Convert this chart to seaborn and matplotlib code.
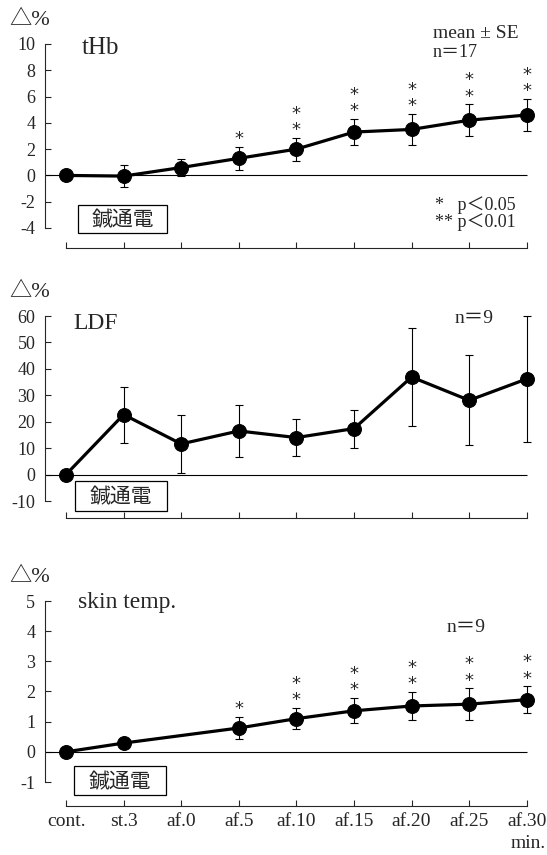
import numpy as np
import pandas as pd
import matplotlib
matplotlib.use('Agg')
import matplotlib.pyplot as plt
import seaborn as sns
from matplotlib.patches import Rectangle

# dados (média ± SE)
labels = ['cont.', 'st.3', 'af.0', 'af.5', 'af.10', 'af.15', 'af.20', 'af.25', 'af.30']

thb_mean = [0, -0.05, 0.6, 1.3, 2.0, 3.3, 3.5, 4.2, 4.6]
thb_se = [0, 0.85, 0.65, 0.87, 0.87, 1.0, 1.2, 1.2, 1.2]
thb_sig = [0, 0, 0, 1, 2, 2, 2, 2, 2]

ldf_mean = [0, 22.7, 11.6, 16.5, 14.0, 17.4, 36.9, 28.1, 36.2]
ldf_se = [0, 10.6, 11.0, 9.9, 7.0, 7.2, 18.7, 17.0, 23.7]
ldf_sig = [0, 0, 0, 0, 0, 0, 0, 0, 0]

skin_mean = [0, 0.29, np.nan, 0.79, 1.1, 1.36, 1.52, 1.58, 1.73]
skin_se = [0, 0.05, np.nan, 0.37, 0.35, 0.42, 0.46, 0.52, 0.44]
skin_sig = [0, 0, 0, 1, 2, 2, 2, 2, 2]

# estilo
sns.set_style('ticks')
plt.rcParams['font.family'] = ['Liberation Serif', 'Noto Sans CJK JP', 'DejaVu Sans']
plt.rcParams['axes.linewidth'] = 0.8
plt.rcParams['axes.unicode_minus'] = False

W, H = 547, 855
fig = plt.figure(figsize=(W / 100, H / 100), dpi=100)

L, R = 45, 540
step = 57.6
x0 = 66


def ftxt(x, y, s, **kw):
    # texto posicionado em pixels da figura
    fig.text(x / W, 1 - y / H, s, **kw)


def box(x1, y1, x2, y2):
    fig.add_artist(Rectangle((x1 / W, 1 - y2 / H), (x2 - x1) / W, (y2 - y1) / H,
                             transform=fig.transFigure, fill=False, lw=0.9, color='black'))
    ftxt((x1 + x2) / 2, (y1 + y2) / 2 + 1, '鍼通電', ha='center', va='center',
         fontsize=15, family=['Noto Sans CJK JP'])


def panel(top, bottom, ylim, yticks, offset_px, mean, se, sig, show_labels=False):
    ax = fig.add_axes([L / W, 1 - bottom / H, (R - L) / W, (bottom - top) / H])
    df = pd.DataFrame({'x': range(len(labels)), 'mean': mean, 'se': se}).dropna()
    ax.errorbar(df['x'], df['mean'], yerr=df['se'], fmt='none', ecolor='black',
                elinewidth=0.8, capsize=3, capthick=0.8, clip_on=False, zorder=2)
    sns.lineplot(data=df, x='x', y='mean', ax=ax, color='black', linewidth=2.3,
                 marker='o', markersize=10, markeredgecolor='black', clip_on=False, zorder=3)
    xmin = -(x0 - L) / step
    ax.set_xlim(xmin, (R - x0) / step)
    ax.set_ylim(*ylim)
    ax.hlines(0, xmin, len(labels) - 1, color='black', lw=0.8, zorder=1)

    # asteriscos de significância (um texto por ponto)
    for i, n in enumerate(sig):
        if n:
            ax.annotate('\n'.join(['*'] * n), xy=(i, mean[i] + se[i]), xytext=(0, 2),
                        textcoords='offset points', ha='center', va='baseline',
                        fontsize=13, linespacing=0.88, family=['DejaVu Sans'])

    sns.despine(ax=ax)
    ax.spines['bottom'].set_position(('outward', offset_px * 0.72))
    ax.spines['bottom'].set_bounds(0, len(labels) - 1)
    ax.set_xticks(range(len(labels)))
    ax.set_xticklabels(labels if show_labels else [''] * len(labels))
    ax.set_yticks(yticks)
    ax.tick_params(axis='x', direction='in', length=4.5, width=0.8, pad=5, labelsize=14)
    ax.tick_params(axis='y', direction='in', length=4, width=0.8, pad=7, labelsize=13)
    ax.set_xlabel('')
    ax.set_ylabel('')
    return ax


ax1 = panel(44, 228, (-4, 10), np.arange(-4, 11, 2), 20, thb_mean, thb_se, thb_sig)
ax2 = panel(316, 501, (-10, 60), np.arange(-10, 61, 10), 17, ldf_mean, ldf_se, ldf_sig)
ax3 = panel(601, 782, (-1, 5), np.arange(-1, 6, 1), 24, skin_mean, skin_se, skin_sig,
            show_labels=True)

# textos
for y in (25, 297, 582):
    ftxt(9, y, '△%', fontsize=16, va='baseline')

ftxt(82, 54, 'tHb', fontsize=18, va='baseline')
ftxt(73, 329, 'LDF', fontsize=17, va='baseline')
ftxt(78, 608, 'skin temp.', fontsize=17, va='baseline')

ftxt(433, 38, 'mean ± SE', fontsize=14, va='baseline')
ftxt(433, 57, 'n＝17', fontsize=13, va='baseline')
ftxt(435, 210, '*   p＜0.05', fontsize=13, va='baseline')
ftxt(435, 227, '** p＜0.01', fontsize=13, va='baseline')
ftxt(455, 323, 'n＝9', fontsize=14, va='baseline')
ftxt(447, 632, 'n＝9', fontsize=14, va='baseline')
ftxt(546, 848, 'min.', fontsize=14, va='baseline', ha='right')

box(78, 205, 167, 233)
box(75, 481, 167, 511)
box(74, 766, 166, 795)

plt.savefig('out.png', dpi=100)
